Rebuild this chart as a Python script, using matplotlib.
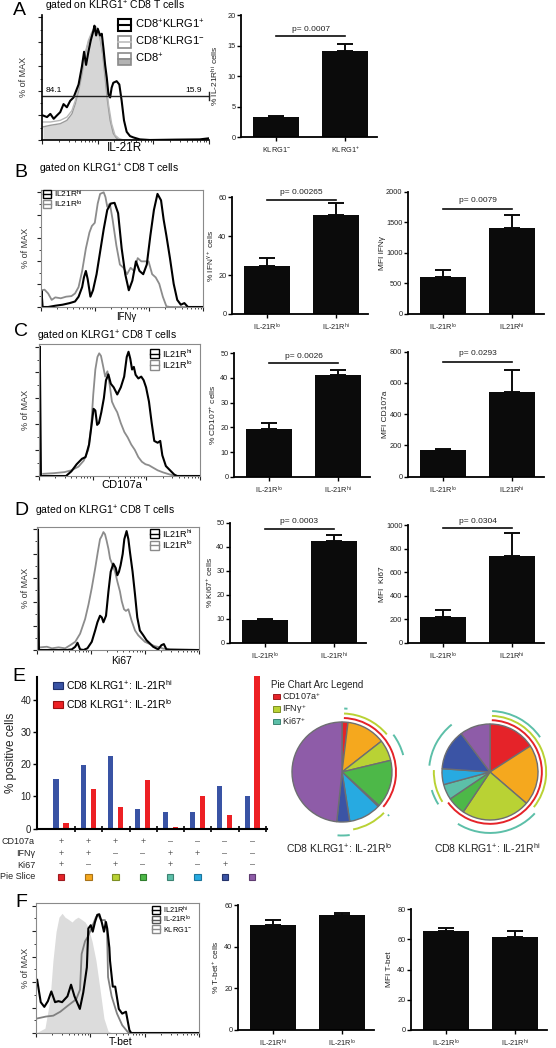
import numpy as np
import matplotlib
matplotlib.use("Agg")
import matplotlib.pyplot as plt
from matplotlib.patches import Rectangle, Arc
from matplotlib.lines import Line2D
from matplotlib import transforms, font_manager

# ======================= DATA =======================
# Panel A histogram (x: % of axis width, y: % of max)
A_pos_x = [0.6, 3.0, 5.0, 7.0, 8.9, 10.9, 12.9, 14.9, 16.9, 18.9, 21.9, 23.9, 25.2, 26.4, 27.8, 29.2, 30.8, 31.4,
           32.4, 33.4, 34.8, 35.8, 36.8, 37.8, 38.8, 39.8, 40.8, 41.7, 42.7, 44.7, 46.3, 47.7, 49.1, 50.7, 52.7,
           54.7, 58.6, 64.6, 80, 94.4, 99.4]
A_pos_y = [20, 18.7, 21.3, 17.3, 20, 22.7, 29.3, 26.7, 32, 34.7, 45.3, 60, 72, 61.3, 72, 81.3, 89.3, 93.3, 85.3,
           90.7, 85.3, 86.7, 74.7, 61.3, 50.7, 37.3, 34.7, 42.7, 46.7, 48, 45.3, 32, 16, 6.7, 3.2, 2.1, 0.5, 0,
           0.3, 0.5, 1.3]
A_neg_x = [0.6, 5.0, 10.9, 14.9, 17.9, 19.9, 21.9, 23.9, 25.8, 27.8, 29.8, 31.8, 33.4, 34.8, 36.8, 38.4, 39.8,
           41.7, 43.7, 46.7, 50.7, 100]
A_neg_y = [14.7, 14.7, 16, 18.7, 24, 32, 42.7, 56, 70.7, 81.3, 88, 92.8, 91.2, 84, 66.7, 48, 29.3, 13.3, 4, 0.5,
           0, 0]
A_all_x = [0.6, 5.0, 10.9, 14.9, 17.9, 19.9, 21.9, 23.9, 25.8, 27.8, 29.8, 31.8, 33.2, 34.8, 36.4, 37.8, 39.2,
           40.8, 42.7, 44.7, 48.7, 100]
A_all_y = [10.7, 12, 13.3, 16, 21.3, 29.3, 40, 53.3, 69.3, 80, 86.7, 92, 90.7, 82.7, 69.3, 50.7, 32, 16, 5.3,
           1.3, 0, 0]
A_gate_left = "84.1"
A_gate_right = "15.9"

# Panel B histogram
B_lo_x = [0.4, 2.2, 4.4, 6.6, 8.8, 12.2, 15.5, 18.8, 21.0, 23.2, 25.4, 27.7, 29.9, 31.4, 33.2, 35.0, 36.5, 38.7,
          39.8, 40.9, 42.5, 44.2, 46.5, 48.7, 50.9, 53.1, 55.3, 57.5, 59.7, 61.9, 64.2, 66.4, 68.6, 70.8, 73.0,
          75.2, 77.4, 79.6, 100]
B_lo_y = [14.6, 15.1, 11.8, 6.2, 8.4, 7.6, 9.0, 9.5, 11.8, 17.4, 31.4, 51.0, 65.0, 70.6, 73.4, 90.2, 98.6, 100,
          95.8, 87.4, 90.2, 76.2, 53.8, 37.0, 34.2, 28.6, 34.2, 31.4, 42.6, 39.8, 39.8, 39.8, 28.6, 25.8, 20.2,
          9.0, 0.6, 0, 0]
B_hi_x = [0, 0.3, 1.0, 4.4, 8.8, 13.3, 17.7, 21.0, 23.2, 25.4, 26.5, 27.7, 28.8, 30.5, 32.1, 34.3, 36.5, 38.7,
          40.9, 43.1, 45.4, 47.6, 49.8, 52.0, 54.2, 56.4, 58.6, 60.8, 63.1, 65.3, 67.5, 69.7, 71.9, 74.1, 75.7,
          77.4, 79.6, 81.9, 84.1, 86.3, 88.5, 90.7, 100]
B_hi_y = [0, 14, 0, 0, 1.1, 2.0, 3.4, 4.8, 9.0, 17.4, 25.8, 31.4, 24.4, 9.0, 14.6, 28.6, 48.2, 67.8, 84.6, 90.2,
          90.8, 81.8, 51.0, 28.6, 14.6, 23.0, 39.8, 31.4, 28.6, 37.0, 62.2, 84.6, 98.6, 93.0, 76.2, 62.2, 42.6,
          20.2, 6.2, 2.0, 3.4, 0, 0]

# Panel C histogram
C_hi_x = [0, 0.5, 1.2, 16.8, 20.1, 23.4, 26.7, 28.9, 31.1, 32.8, 33.9, 35.0, 36.1, 37.2, 38.7, 40.3, 41.6, 43.1,
          44.6, 46.4, 48.6, 50.8, 52.9, 54.5, 55.6, 56.7, 57.8, 58.9, 60.0, 61.7, 63.5, 65.0, 66.5, 68.3, 70.0,
          71.6, 73.7, 75.3, 76.6, 78.8, 81.4, 84.0, 85.8, 100]
C_hi_y = [0, 100, 0, 0, 3.6, 9.1, 13.3, 14.6, 24.3, 40.9, 51.9, 50.6, 39.5, 40.9, 49.2, 60.2, 74, 78.5, 71.3,
          68.5, 63, 68.5, 76.8, 92, 96, 90.6, 82.3, 84.3, 78.2, 75.4, 76.8, 74, 68.5, 57.5, 40.9, 27.1, 25.7,
          27.1, 16, 7.7, 4.4, 1.1, 0, 0]
C_lo_x = [2.6, 9.2, 15.8, 20.1, 24.5, 27.8, 30.6, 32.4, 33.7, 35.0, 36.3, 37.4, 38.5, 39.8, 41.1, 42.5, 43.8,
          45.3, 46.8, 48.6, 50.8, 53.0, 55.1, 57.3, 59.5, 61.7, 63.9, 66.1, 68.3, 70.9, 73.7, 77.0, 81.4, 84.7, 100]
C_lo_y = [1.7, 2.2, 3.0, 4.4, 7.2, 11.9, 20.2, 38.1, 63, 82.3, 92, 94.8, 92.8, 85, 76.8, 80.9, 71.3, 57.5, 53.3,
          49.2, 40.9, 34, 29.8, 24.3, 20.2, 14.6, 11, 9.1, 8.3, 6.4, 4.4, 2.8, 1.1, 0, 0]

# Panel D histogram
D_hi_x = [0, 0.6, 1.2, 18.4, 21.5, 23.6, 25.0, 26.6, 28.7, 31.1, 33.8, 35.9, 37.3, 38.9, 40.0, 41.0, 42.6, 44.1,
          45.5, 47.1, 48.6, 49.6, 50.6, 51.6, 52.9, 53.9, 55.3, 56.4, 57.4, 59.0, 60.5, 61.9, 63.5, 65.6, 67.6,
          69.7, 71.7, 74.8, 76.8, 78.3, 79.9, 82.0, 100]
D_hi_y = [0, 100, 0, 0, 0.5, 2.7, 6, 0.5, 0, 1.4, 6.8, 16.2, 23, 28.4, 27, 23, 28.4, 48.6, 64.9, 71.6, 68, 62,
          64.9, 70.3, 79.7, 91.9, 98.6, 91.9, 81, 64.9, 46, 27, 16.2, 12.2, 8.1, 5.4, 2.7, 0.5, 4, 4.9, 0.5, 0, 0]
D_lo_x = [2.0, 6.1, 9.2, 13.3, 17.4, 20.5, 23.6, 26.6, 29.7, 31.8, 33.8, 35.9, 37.5, 38.9, 40.0, 41.0, 42.0,
          43.0, 44.1, 45.1, 46.7, 48.2, 49.6, 51.2, 52.3, 53.7, 54.9, 56.4, 58.4, 60.5, 62.5, 64.5, 66.6, 69.7,
          72.7, 75.8, 77.9, 100]
D_lo_y = [2.2, 2.7, 1.4, 2.2, 1.4, 4, 6.8, 13.5, 25.7, 37.8, 51.4, 67.6, 81, 91.9, 94.6, 97.8, 95.9, 90.5, 83.8,
          75.7, 70.3, 64.9, 56.8, 48.6, 40.5, 33.8, 32.4, 33.8, 24.3, 16.2, 12.2, 9.5, 6.8, 4.9, 3.2, 2.2, 1.1, 0]

# Panel F histogram
F_hi_x = [0.7, 2.9, 5.1, 7.3, 9.4, 11.7, 13.8, 16.0, 19.3, 21.5, 23.6, 26.9, 29.0, 31.2, 32.1, 33.6, 34.8, 36.2,
          37.6, 38.8, 40.3, 41.7, 42.9, 43.7, 45.0, 45.4, 47.1, 48.6, 50.8, 52.9, 55.2, 57.3, 58.4, 100]
F_hi_y = [41.7, 24.2, 20.5, 25.0, 32.6, 24.2, 25.0, 24.2, 28.8, 37.9, 28.8, 18.9, 31.8, 51.5, 82.0, 84.6, 79.5,
          87.1, 92.7, 93.2, 87.1, 79.5, 87.1, 82.0, 66.9, 56.8, 36.4, 36.4, 18.9, 15.2, 16.7, 2.3, 0, 0]
F_lo_x = [0.7, 6.1, 10.6, 14.9, 19.3, 24.7, 27.0, 28.0, 30.1, 31.9, 34.4, 36.8, 38.2, 39.9, 42.3, 43.6, 44.2,
          46.4, 49.7, 52.9, 56.3, 58.3, 100]
F_lo_y = [11.4, 12.9, 13.6, 16.7, 21.2, 26.5, 34, 62, 72, 75.8, 83.3, 90.9, 92.7, 88.6, 88.6, 79.5, 43.9, 28.8,
          15.2, 6.1, 0.8, 0, 0]
F_neg_x = [0, 5.5, 8.6, 10.4, 12.3, 14.1, 16.0, 17.8, 19.6, 22.1, 23.9, 25.8, 27.6, 30.1, 31.9, 34.4, 36.8,
           39.3, 41.7, 44.2, 46.6, 100]
F_neg_y = [0, 3.8, 26.5, 56.8, 79.5, 90.9, 93.9, 90.9, 89.4, 87.1, 89.4, 90.9, 89.4, 87.1, 83.3, 72, 56.8, 34,
           11.4, 1.5, 0, 0]

# Bar charts: values, upper error, p-values
A_cats = ["KLRG1$^{-}$", "KLRG1$^{+}$"]
A_vals = [3.3, 14.1]
A_err = [0.15, 1.1]
A_p = "p= 0.0007"

B1_cats = ["IL-21R$^{lo}$", "IL-21R$^{hi}$"]
B1_vals = [24.7, 51.1]
B1_err = [4.3, 5.8]
B1_p = "p= 0.00265"
B2_cats = ["IL-21R$^{lo}$", "IL21R$^{hi}$"]
B2_vals = [600, 1410]
B2_err = [120, 215]
B2_p = "p= 0.0079"

C1_cats = ["IL-21R$^{lo}$", "IL-21R$^{hi}$"]
C1_vals = [19.3, 41.2]
C1_err = [2.3, 2.0]
C1_p = "p= 0.0026"
C2_cats = ["IL-21R$^{lo}$", "IL21R$^{hi}$"]
C2_vals = [168, 540]
C2_err = [12, 145]
C2_p = "p= 0.0293"

D1_cats = ["IL-21R$^{lo}$", "IL-21R$^{hi}$"]
D1_vals = [9.6, 42.3]
D1_err = [0.3, 2.6]
D1_p = "p= 0.0003"
D2_cats = ["IL-21R$^{lo}$", "IL21R$^{hi}$"]
D2_vals = [220, 740]
D2_err = [58, 190]
D2_p = "p= 0.0304"

F1_cats = ["IL-21R$^{hi}$", "IL-21R$^{lo}$"]
F1_vals = [50.5, 55.3]
F1_err = [2.5, 1.0]
F2_cats = ["IL-21R$^{lo}$", "IL-21R$^{hi}$"]
F2_vals = [65.5, 61.8]
F2_err = [2.0, 3.4]

# Panel E
E_cd107a = ['+', '+', '+', '+', '–', '–', '–', '–']
E_ifng = ['+', '+', '–', '–', '+', '+', '–', '–']
E_ki67 = ['+', '–', '+', '–', '+', '–', '+', '–']
E_hi = [15.5, 19.9, 22.5, 6.0, 5.1, 5.2, 13.3, 10.0]
E_lo = [1.9, 12.3, 6.7, 15.2, 0.4, 10.2, 4.1, 47.5]
SLICE_COLORS = ['#e52329', '#f5a81e', '#b9d234', '#4db848', '#5cbfa8', '#27aae1', '#3b54a5', '#8e5ca8']
SLICE_EDGES = ['#9e1a1e', '#a8731a', '#7d8f24', '#2f7d2c', '#3c8373', '#1c759b', '#24336b', '#5e3b70']

# ======================= STYLE / HELPERS =======================
names = {f.name for f in font_manager.fontManager.ttflist}
NARROW = 'Liberation Sans Narrow' if 'Liberation Sans Narrow' in names else 'Liberation Sans'
plt.rcParams['font.family'] = ['Liberation Sans', 'DejaVu Sans']
plt.rcParams['mathtext.fontset'] = 'custom'
plt.rcParams['mathtext.rm'] = 'Liberation Sans'
plt.rcParams['mathtext.it'] = 'Liberation Sans:italic'
plt.rcParams['mathtext.bf'] = 'Liberation Sans:bold'
plt.rcParams['mathtext.default'] = 'regular'

W, H = 556, 1048
fig = plt.figure(figsize=(W / 100, H / 100), dpi=100)
fig.patch.set_facecolor('white')
BAR = '#0b0b0b'
TXT = '#222222'


def add_ax(x0, y0, x1, y1):
    return fig.add_axes([x0 / W, 1 - y1 / H, (x1 - x0) / W, (y1 - y0) / H])


def ftext(x, y, s, **kw):
    fig.text(x / W, 1 - y / H, s, **kw)


def px_rect(x0, y0, w, h, **kw):
    fig.add_artist(Rectangle((x0 / W, 1 - (y0 + h) / H), w / W, h / H, transform=fig.transFigure, **kw))


def px_line(xs, ys, **kw):
    fig.add_artist(Line2D([x / W for x in xs], [1 - y / H for y in ys], transform=fig.transFigure, **kw))


def flow_icon(x0, yc, w, h, edge, lw, mid, fill_bottom=None):
    y0 = yc - h / 2
    px_rect(x0, y0, w, h, facecolor='white', edgecolor='none')
    if fill_bottom:
        px_rect(x0, yc, w, h / 2, facecolor=fill_bottom, edgecolor='none')
    px_line([x0, x0 + w], [yc, yc], color=mid, lw=lw)
    px_rect(x0, y0, w, h, facecolor='none', edgecolor=edge, lw=lw)


def letter(x, y_base, s):
    ftext(x, y_base, s, fontsize=14, ha='center', va='baseline')


def hist_frame(ax, box=True):
    ax.set_xlim(0, 100)
    ax.set_ylim(0, 102)
    major = [0, 33.3, 66.7, 100]
    minor = [d + 33.3 * np.log10(k) for d in major[:-1] for k in range(2, 10)]
    ax.set_xticks(major)
    ax.set_xticks(minor, minor=True)
    ax.set_yticks(np.arange(0, 101, 20))
    ax.set_yticks(np.arange(10, 100, 20), minor=True)
    ax.tick_params(axis='both', which='major', direction='out', length=3, width=0.8,
                   labelbottom=False, labelleft=False, color='#222')
    ax.tick_params(axis='both', which='minor', direction='out', length=1.6, width=0.6, color='#222')
    if box:
        for s in ax.spines.values():
            s.set_color('#8a8a8a')
            s.set_linewidth(0.8)
    else:
        ax.spines['top'].set_visible(False)
        ax.spines['right'].set_visible(False)
        ax.spines['left'].set_linewidth(1.2)
        ax.spines['bottom'].set_linewidth(1.2)


def bar_chart(a, y0, ytop, ymax, yticks, vals, errs, cats, ylabel, yl_off=19, p=None):
    ax = add_ax(a, ytop, a + 136, y0)
    x = np.arange(len(vals))
    ax.bar(x, vals, width=0.667, color=BAR, zorder=2)
    ax.errorbar(x, vals, yerr=[np.zeros(len(vals)), errs], fmt='none', ecolor=BAR, elinewidth=1.4,
                capsize=6, capthick=1.4, zorder=3, clip_on=False)
    ax.set_xlim(-35 / 69, 1 + 32 / 69)
    ax.set_ylim(0, ymax)
    ax.set_yticks(yticks)
    ax.set_yticklabels([str(t) for t in yticks], family=NARROW, fontsize=5.3, color=TXT)
    ax.set_xticks(x)
    ax.set_xticklabels(cats, family=NARROW, fontsize=5.3, color=TXT)
    for s in ['top', 'right']:
        ax.spines[s].set_visible(False)
    for s in ['left', 'bottom']:
        ax.spines[s].set_linewidth(1.3)
    ax.tick_params(axis='y', length=3, width=1, pad=1)
    ax.tick_params(axis='x', length=3, width=1, pad=2.5)
    ax.set_ylabel(ylabel, family=NARROW, fontsize=6, color=TXT)
    ax.yaxis.set_label_coords(-yl_off / 136, 0.5)
    ax.patch.set_alpha(0)
    if p is not None:
        ptxt, ly, ty = p
        ax.plot([0, 1], [ly, ly], color=BAR, lw=1.2, clip_on=False)
        ax.text(0.5, ty, ptxt, ha='center', va='center', family=NARROW, fontsize=6, color=TXT, clip_on=False)
    return ax


# ======================= PANEL A =======================
letter(19, 15, "A")
ftext(45, 6.5, "gated on KLRG1$^{+}$ CD8 T cells", fontsize=7.5, ha='left', va='center')
axA = add_ax(42, 15, 209, 140)
hist_frame(axA, box=False)
axA.fill_between(A_all_x, A_all_y, color='#d6d6d6', lw=0)
axA.plot(A_all_x, A_all_y, color='#9a9a9a', lw=1.0)
axA.plot(A_neg_x, A_neg_y, color='#b8b8b8', lw=1.0)
axA.plot(A_pos_x, A_pos_y, color='black', lw=1.5)
axA.plot([0, 100], [36, 36], color='#222', lw=1.0, clip_on=False)
axA.plot([100, 100], [33, 39], color='#222', lw=1.0, clip_on=False)
axA.text(2, 40.5, A_gate_left, fontsize=6, ha='left', va='center')
axA.text(96, 40.5, A_gate_right, fontsize=6, ha='right', va='center')
ftext(125, 148, "IL-21R", fontsize=8.5, ha='center', va='center')
ftext(23, 77, "% of MAX", fontsize=6.5, rotation=90, ha='center', va='center', color='#333')
flow_icon(118, 24.5, 13, 12, 'black', 1.5, 'black')
flow_icon(118, 41.5, 13, 12, '#8a8a8a', 1.2, '#bdbdbd')
flow_icon(118, 58.5, 13, 12, '#8a8a8a', 1.2, '#8a8a8a', fill_bottom='#b3b3b3')
ftext(135, 24.5, "CD8$^{+}$KLRG1$^{+}$", fontsize=8, va='center')
ftext(135, 41.5, "CD8$^{+}$KLRG1$^{-}$", fontsize=8, va='center')
ftext(135, 58.5, "CD8$^{+}$", fontsize=8, va='center')

bar_chart(241, 137.3, 15, 20, [0, 5, 10, 15, 20], A_vals, A_err, A_cats, "% IL-21R$^{hi}$ cells",
          yl_off=20, p=(A_p, 16.6, 17.7))

# ======================= PANEL B =======================
letter(21, 177, "B")
ftext(39, 169, "gated on KLRG1$^{+}$ CD8 T cells", fontsize=7.5, ha='left', va='center')
axB = add_ax(41, 190, 203, 307)
hist_frame(axB)
axB.plot(B_lo_x, B_lo_y, color='#8c8c8c', lw=1.3)
axB.plot(B_hi_x, B_hi_y, color='black', lw=1.5)
ftext(126, 317, "IFNγ", fontsize=7, ha='center', va='center')
ftext(25, 248, "% of MAX", fontsize=6.5, rotation=90, ha='center', va='center', color='#333')
flow_icon(43, 194, 8, 8, 'black', 1.0, 'black')
flow_icon(43, 204, 8, 8, '#8a8a8a', 1.0, '#8a8a8a')
ftext(54, 194, "IL21R$^{hi}$", fontsize=6, va='center')
ftext(54, 204, "IL21R$^{lo}$", fontsize=6, va='center')

bar_chart(232, 314, 197.3, 60, [0, 20, 40, 60], B1_vals, B1_err, B1_cats, "% IFN$^{γ+}$ cells",
          yl_off=16, p=(B1_p, 58.6, 62.4))
bar_chart(408, 314, 191.7, 2000, [0, 500, 1000, 1500, 2000], B2_vals, B2_err, B2_cats, "MFI IFNγ",
          yl_off=22, p=(B2_p, 1712, 1864))

# ======================= PANEL C =======================
letter(21, 336, "C")
ftext(37, 336, "gated on KLRG1$^{+}$ CD8 T cells", fontsize=7.5, ha='left', va='center')
axC = add_ax(39, 344, 200, 476)
hist_frame(axC)
axC.plot(C_lo_x, C_lo_y, color='#8c8c8c', lw=1.3)
axC.plot(C_hi_x, C_hi_y, color='black', lw=1.5)
ftext(122, 485.5, "CD107a", fontsize=8, ha='center', va='center')
ftext(25, 410, "% of MAX", fontsize=6.5, rotation=90, ha='center', va='center', color='#333')
flow_icon(150, 353.5, 9, 9, 'black', 1.0, 'black')
flow_icon(150, 365, 9, 9, '#8a8a8a', 1.0, '#8a8a8a')
ftext(162, 353.5, "IL21R$^{hi}$", fontsize=6.5, va='center')
ftext(162, 365, "IL21R$^{lo}$", fontsize=6.5, va='center')

bar_chart(234, 476.7, 353.3, 50, [0, 10, 20, 30, 40, 50], C1_vals, C1_err, C1_cats, "% CD107$^{+}$ cells",
          yl_off=16, p=(C1_p, 46, 48.6))
bar_chart(408, 476.7, 351.7, 800, [0, 200, 400, 600, 800], C2_vals, C2_err, C2_cats, "MFI CD107a",
          yl_off=19, p=(C2_p, 736, 790))

# ======================= PANEL D =======================
letter(21, 515, "D")
ftext(35, 511, "gated on KLRG1$^{+}$ CD8 T cells", fontsize=7.5, ha='left', va='center')
axD = add_ax(37, 527, 199, 650)
hist_frame(axD)
axD.plot(D_lo_x, D_lo_y, color='#8c8c8c', lw=1.3)
axD.plot(D_hi_x, D_hi_y, color='black', lw=1.5)
ftext(121, 661, "Ki67", fontsize=7.5, ha='center', va='center')
ftext(25, 588, "% of MAX", fontsize=6.5, rotation=90, ha='center', va='center', color='#333')
flow_icon(150, 533.5, 9, 9, 'black', 1.0, 'black')
flow_icon(150, 545, 9, 9, '#8a8a8a', 1.0, '#8a8a8a')
ftext(162, 533.5, "IL21R$^{hi}$", fontsize=6.5, va='center')
ftext(162, 545, "IL21R$^{lo}$", fontsize=6.5, va='center')

bar_chart(230, 642.7, 522.7, 50, [0, 10, 20, 30, 40, 50], D1_vals, D1_err, D1_cats, "% Ki67$^{+}$ cells",
          yl_off=15, p=(D1_p, 47.2, 50.4))
bar_chart(408, 642.7, 525, 1000, [0, 200, 400, 600, 800, 1000], D2_vals, D2_err, D2_cats, "MFI  Ki67",
          yl_off=22, p=(D2_p, 972, 1028))

# ======================= PANEL E =======================
letter(19, 681, "E")
axE = add_ax(37, 676.7, 266.7, 828.7)
gx = np.arange(len(E_hi))
axE.bar(gx - 0.183, E_hi, width=0.19, color='#3953a4', zorder=2, clip_on=False)
axE.bar(gx + 0.183, E_lo, width=0.19, color='#ed2024', zorder=2, clip_on=False)
axE.set_xlim(-0.879, 7.535)
axE.set_ylim(0, 47.2)
axE.set_yticks([0, 10, 20, 30, 40])
axE.set_yticklabels(['0', '10', '20', '30', '40'], fontsize=7, color=TXT)
axE.set_xticks(gx + 0.513)
axE.tick_params(axis='x', direction='inout', length=5, width=1.2, labelbottom=False)
axE.tick_params(axis='y', length=3, width=1, pad=1)
for s in ['top', 'right']:
    axE.spines[s].set_visible(False)
for s in ['left', 'bottom']:
    axE.spines[s].set_linewidth(1.5)
axE.set_ylabel("% positive cells", fontsize=8.5, color=TXT)
axE.yaxis.set_label_coords(-20 / 229.7, 0.5)
axE.patch.set_alpha(0)

px_rect(52.5, 681.5, 10.5, 7, facecolor='#3953a4', edgecolor='#1f2f6b', lw=0.8)
ftext(66, 685, "CD8 KLRG1$^{+}$: IL-21R$^{hi}$", fontsize=7.5, va='center')
px_rect(52.5, 701, 10.5, 7, facecolor='#ed2024', edgecolor='#9b1010', lw=0.8)
ftext(66, 704.5, "CD8 KLRG1$^{+}$: IL-21R$^{lo}$", fontsize=7.5, va='center')

trE = transforms.blended_transform_factory(axE.transData, fig.transFigure)
row_y = [841.7, 853.3, 865, 876.7]
for lab, yy in zip(["CD107a", "IFNγ", "Ki67", "Pie Slice"], row_y):
    ftext(35, yy, lab, fontsize=6.5, ha='right', va='center', color=TXT)
for i in range(len(E_hi)):
    for marks, yy in zip([E_cd107a, E_ifng, E_ki67], row_y[:3]):
        fig.text(i, 1 - yy / H, marks[i], transform=trE, fontsize=6.5, ha='center', va='center', color='#555')
    fig.add_artist(Rectangle((i - 0.12, 1 - (row_y[3] + 2.9) / H), 0.24, 5.8 / H, transform=trE,
                             facecolor=SLICE_COLORS[i], edgecolor=SLICE_EDGES[i], lw=0.8))

# Pie arc legend
ARC_RED, ARC_YG, ARC_TEAL = '#e52329', '#b9d234', '#5cbfa8'
ftext(271, 684.5, "Pie Chart Arc Legend", fontsize=7, va='center', color=TXT)
for yy, col, edge, lab in [(696.5, ARC_RED, '#9e1a1e', "CD107a$^{+}$"), (709, ARC_YG, '#7d8f24', "IFNγ$^{+}$"),
                           (721.5, ARC_TEAL, '#3c8373', "Ki67$^{+}$")]:
    px_rect(273, yy - 2.8, 7, 5.6, facecolor=col, edgecolor=edge, lw=0.7)
    ftext(282, yy, lab, fontsize=6.5, va='center', color=TXT)


def draw_pie(cx, cy, r, vals, label):
    pad = 1.42
    ax = add_ax(cx - pad * r, cy - pad * r, cx + pad * r, cy + pad * r)
    ax.pie(vals, colors=SLICE_COLORS, startangle=90, counterclock=False, radius=1.0,
           wedgeprops=dict(edgecolor='#6d6e71', linewidth=1.0))
    ax.set_xlim(-pad, pad)
    ax.set_ylim(-pad, pad)
    ax.set_aspect('equal')
    ax.axis('off')
    frac = np.array(vals) / np.sum(vals)
    cum = np.concatenate([[0], np.cumsum(frac)])
    for marks, col, rad in [(E_cd107a, ARC_RED, 1.08), (E_ifng, ARC_YG, 1.17), (E_ki67, ARC_TEAL, 1.27)]:
        i = 0
        n = len(marks)
        while i < n:
            if marks[i] == '+':
                j = i
                while j + 1 < n and marks[j + 1] == '+':
                    j += 1
                t1 = 90 - 360 * cum[j + 1]
                t2 = 90 - 360 * cum[i]
                if t2 - t1 > 5:
                    t1 += 2
                    t2 -= 2
                ax.add_patch(Arc((0, 0), 2 * rad, 2 * rad, theta1=t1, theta2=t2, color=col, lw=1.4))
                i = j + 1
            else:
                i += 1
    ftext(cx - 3, 848.5, label, fontsize=7.5, ha='center', va='center', color=TXT)


draw_pie(342, 772, 50, E_lo, "CD8 KLRG1$^{+}$: IL-21R$^{lo}$")
draw_pie(490, 772, 48, E_hi, "CD8 KLRG1$^{+}$: IL-21R$^{hi}$")

# ======================= PANEL F =======================
letter(21, 907, "F")
axF = add_ax(36, 903, 199, 1033)
hist_frame(axF)
axF.fill_between(F_neg_x, F_neg_y, color='#dcdcdc', lw=0)
axF.plot(F_lo_x, F_lo_y, color='#808080', lw=1.3)
axF.plot(F_hi_x, F_hi_y, color='black', lw=1.5)
ftext(121, 1042, "T-bet", fontsize=7.5, ha='center', va='center')
ftext(26, 968, "% of MAX", fontsize=6.5, rotation=90, ha='center', va='center', color='#333')
flow_icon(152, 910, 8, 7.5, 'black', 1.0, 'black')
flow_icon(152, 919.5, 8, 7.5, '#555555', 1.0, '#555555')
flow_icon(152, 929, 8, 7.5, '#8a8a8a', 1.0, '#8a8a8a')
ftext(163, 910, "IL21R$^{hi}$", fontsize=5.3, va='center')
ftext(163, 919.5, "IL-21R$^{lo}$", fontsize=5.3, va='center')
ftext(163, 929, "KLRG1$^{-}$", fontsize=5.3, va='center')

bar_chart(238, 1030, 905, 60, [0, 20, 40, 60], F1_vals, F1_err, F1_cats, "% T-bet$^{+}$ cells", yl_off=17)
bar_chart(411, 1030, 909, 80, [0, 20, 40, 60, 80], F2_vals, F2_err, F2_cats, "MFI T-bet", yl_off=18)

fig.savefig("out.png", dpi=100)
